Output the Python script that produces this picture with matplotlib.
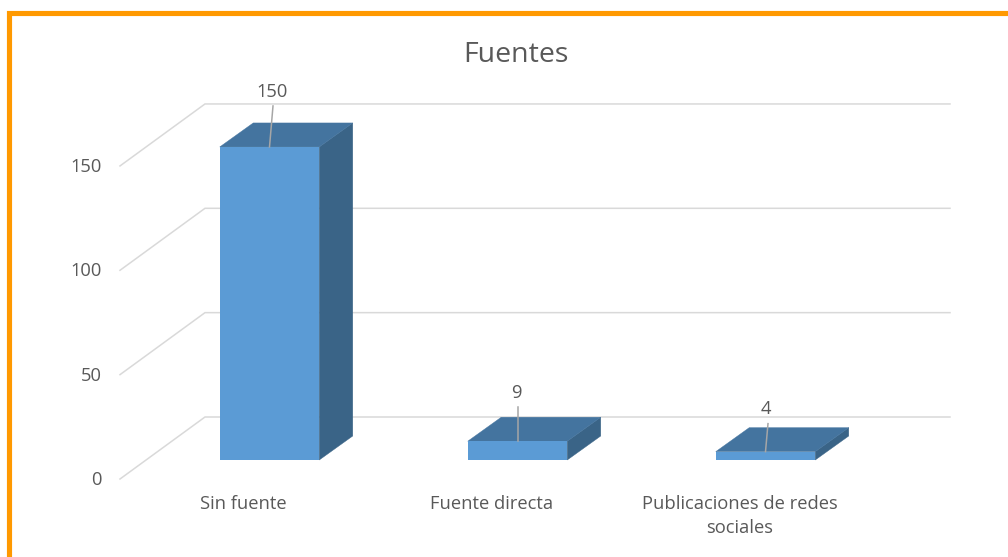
import matplotlib
matplotlib.use("Agg")
import matplotlib.pyplot as plt
from matplotlib.patches import Polygon, Rectangle

title = "Fuentes"
categories = ["Sin fuente", "Fuente directa", "Publicaciones de redes\nsociales"]
values = [150, 9, 4]
y_ticks = [0, 50, 100, 150]

W, H = 1008, 557
X0, XS = 269.5, 248.0    # pixel of category 0, pixels per category
Y0, YS = 460.0, 2.087    # pixel of value 0, pixels per unit
BAR_W = 99.5
BAR_DX, BAR_DY = 33.5, 24
WALL_DX, WALL_DY = 85, 62
FLOOR_DY = 19            # front axis edge lies below the bar base
GRID_END = 950
TXT = "#595959"
FONT = "Open Sans"
FS = 13.2

fig = plt.figure(figsize=(W / 100, H / 100), dpi=100, facecolor="white")
ax = fig.add_axes([0, 0, 1, 1])
ax.set_xlim((0 - X0) / XS, (W - X0) / XS)
ax.set_ylim((Y0 - H) / YS, Y0 / YS)
ax.axis("off")


def dx(p):
    return p / XS


def dy(p):
    return p / YS


def px(x):
    return (x - X0) / XS


# orange frame (runs off the right and bottom edges)
ax.add_patch(Rectangle((px(9.2), (Y0 - H - 40) / YS), dx(W + 60), dy(H + 40 - 13.2),
                       fill=False, ec="#FF9900", lw=3.7, zorder=5))

ax.text(px(516), (Y0 - 55) / YS, title, ha="center", va="center",
        fontsize=20.5, color=TXT, family=FONT)

# wall gridlines and floor/side slants
for v in y_ticks:
    y_front = v - dy(FLOOR_DY)
    y_back = y_front + dy(WALL_DY)
    ax.plot([px(120), px(120 + WALL_DX), px(GRID_END)], [y_front, y_back, y_back],
            color="#D9D9D9", lw=1.1, zorder=1, solid_joinstyle="miter")
    ax.text(px(102), y_front + dy(-1), str(v), ha="right", va="center",
            fontsize=FS, color=TXT, family=FONT)

# 3D bars
label_dy = [55, 48, 43]
label_dx = [2.5, -1, 0.5]
lead_top = [41, 34, 28]
lead_dx = [3.5, 0, 2.5]
for i, (cat, v) in enumerate(zip(categories, values)):
    l, r = i - dx(BAR_W / 2), i + dx(BAR_W / 2)
    ox, oy = dx(BAR_DX), dy(BAR_DY)
    ax.add_patch(Polygon([(r, 0), (r + ox, oy), (r + ox, v + oy), (r, v)],
                         fc="#3A6487", ec="#3A6487", lw=0.3, zorder=3))
    ax.add_patch(Polygon([(l, v), (l + ox, v + oy), (r + ox, v + oy), (r, v)],
                         fc="#44749F", ec="#44749F", lw=0.3, zorder=3))
    ax.add_patch(Rectangle((l, 0), r - l, v, fc="#5B9BD5", ec="none", zorder=3))
    ax.plot([i, i + dx(lead_dx[i])], [v, v + dy(lead_top[i])],
            color="#A6A6A6", lw=1.1, zorder=4)
    ax.text(i + dx(label_dx[i]), v + dy(label_dy[i]), str(v), ha="center", va="center",
            fontsize=FS, color=TXT, family=FONT, zorder=4)
    lines = cat.split("\n")
    for k, line in enumerate(lines):
        ax.text(i - dx(26), (Y0 - 504 - 24 * k) / YS, line, ha="center", va="center",
                fontsize=FS, color=TXT, family=FONT)

fig.savefig("out.png", dpi=100, facecolor="white")
